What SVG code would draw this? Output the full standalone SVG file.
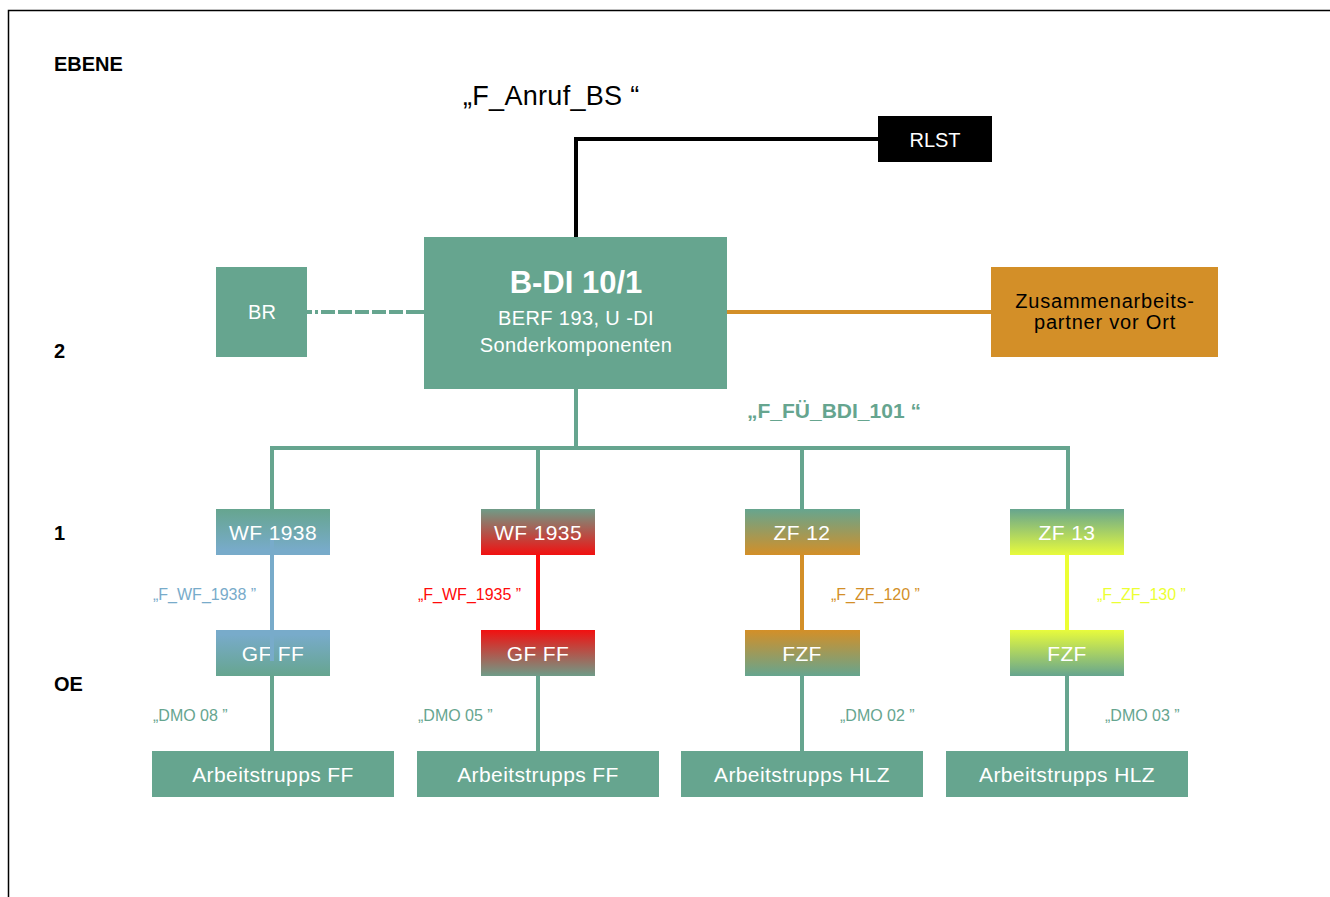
<svg xmlns="http://www.w3.org/2000/svg" width="1330" height="897" viewBox="0 0 1330 897">
<style>
text{font-family:"Liberation Sans",Arial,sans-serif}
.lvl{font-size:20px;font-weight:bold;fill:#000}
.bx{text-anchor:middle;fill:#fff}
.m{font-size:21px;letter-spacing:0.4px}
.lab{font-size:16px}
.teal{fill:#66a58f}
.ln{fill:none;stroke-width:4}
</style>
<defs>
<linearGradient id="gBlueD" x1="0" y1="0" x2="0" y2="1"><stop offset="0" stop-color="#66a58f"/><stop offset="0.9" stop-color="#78abca"/></linearGradient>
<linearGradient id="gBlueU" x1="0" y1="0" x2="0" y2="1"><stop offset="0.1" stop-color="#78abca"/><stop offset="1" stop-color="#66a58f"/></linearGradient>
<linearGradient id="gRedD" x1="0" y1="0" x2="0" y2="1"><stop offset="0" stop-color="#6f9c88"/><stop offset="1" stop-color="#f21010"/></linearGradient>
<linearGradient id="gRedU" x1="0" y1="0" x2="0" y2="1"><stop offset="0" stop-color="#f21010"/><stop offset="1" stop-color="#6f9c88"/></linearGradient>
<linearGradient id="gOrD" x1="0" y1="0" x2="0" y2="1"><stop offset="0" stop-color="#66a58f"/><stop offset="1" stop-color="#d38f28"/></linearGradient>
<linearGradient id="gOrU" x1="0" y1="0" x2="0" y2="1"><stop offset="0" stop-color="#d38f28"/><stop offset="1" stop-color="#66a58f"/></linearGradient>
<linearGradient id="gYeD" x1="0" y1="0" x2="0" y2="1"><stop offset="0" stop-color="#66a58f"/><stop offset="1" stop-color="#e8fb3c"/></linearGradient>
<linearGradient id="gYeU" x1="0" y1="0" x2="0" y2="1"><stop offset="0" stop-color="#e8fb3c"/><stop offset="1" stop-color="#66a58f"/></linearGradient>
</defs>
<rect width="1330" height="897" fill="#fff"/>
<path d="M8.5 897 V10.5 H1330" fill="none" stroke="#000" stroke-width="1.5"/>
<g id="levels">
<text class="lvl" x="54" y="71">EBENE</text>
<text class="lvl" x="54" y="358">2</text>
<text class="lvl" x="54" y="540">1</text>
<text class="lvl" x="54" y="691">OE</text>
</g>
<g id="connectors">
<path class="ln" d="M576 237 V139 H878" stroke="#000"/>
<path class="ln" d="M307 312 H424" stroke="#66a58f" stroke-dasharray="5 3 3 3 14 3 14 3 14 3 14 3 14 3 30"/>
<path class="ln" d="M727 312 H991" stroke="#d38f28"/>
<path class="ln" d="M576 389 V448 M272 509 V448 H1068 V509 M538 448 V509 M802 448 V509" stroke="#66a58f"/>
<path class="ln" d="M538 555 V630" stroke="#ff0a0a"/>
<path class="ln" d="M802 555 V630" stroke="#d38f28"/>
<path class="ln" d="M1067 555 V630" stroke="#ecff33"/>
<path class="ln" d="M272 676 V751 M538 676 V751 M802 676 V751 M1067 676 V751" stroke="#66a58f"/>
</g>
<text x="463" y="105" style="font-size:27px;letter-spacing:0.3px" fill="#000">„F_Anruf_BS “</text>
<text x="747" y="418" style="font-size:21px;font-weight:bold" class="teal">„F_FÜ_BDI_101 “</text>
<g id="RLST"><rect x="878" y="116" width="114" height="46" fill="#000"/><text class="bx" x="935" y="147" style="font-size:20px">RLST</text></g>
<g id="BDI"><rect x="424" y="237" width="303" height="152" fill="#66a58f"/>
<text class="bx" x="576" y="293" style="font-size:31px;font-weight:bold">B-DI 10/1</text>
<text class="bx" x="576" y="325" style="font-size:20px;letter-spacing:0.4px">BERF 193, U -DI</text>
<text class="bx" x="576" y="352" style="font-size:20px;letter-spacing:0.4px">Sonderkomponenten</text></g>
<g id="BR"><rect x="216" y="267" width="91" height="90" fill="#66a58f"/><text class="bx" x="262" y="319" style="font-size:20px">BR</text></g>
<g id="ZAP"><rect x="991" y="267" width="227" height="90" fill="#d38f28"/>
<text x="1105" y="308" style="font-size:20px;letter-spacing:0.8px" text-anchor="middle" fill="#000">Zusammenarbeits-</text>
<text x="1105" y="329" style="font-size:20px;letter-spacing:0.8px" text-anchor="middle" fill="#000">partner vor Ort</text></g>
<g id="WF1938"><rect x="216" y="509" width="114" height="46" fill="url(#gBlueD)"/><text class="bx m" x="273" y="540">WF 1938</text></g>
<g id="WF1935"><rect x="481" y="509" width="114" height="46" fill="url(#gRedD)"/><text class="bx m" x="538" y="540">WF 1935</text></g>
<g id="ZF12"><rect x="745" y="509" width="115" height="46" fill="url(#gOrD)"/><text class="bx m" x="802" y="540">ZF 12</text></g>
<g id="ZF13"><rect x="1010" y="509" width="114" height="46" fill="url(#gYeD)"/><text class="bx m" x="1067" y="540">ZF 13</text></g>
<g id="GF1"><rect x="216" y="630" width="114" height="46" fill="url(#gBlueU)"/><text class="bx m" x="273" y="661">GF FF</text></g>
<g id="GF2"><rect x="481" y="630" width="114" height="46" fill="url(#gRedU)"/><text class="bx m" x="538" y="661">GF FF</text></g>
<g id="FZF1"><rect x="745" y="630" width="115" height="46" fill="url(#gOrU)"/><text class="bx m" x="802" y="661">FZF</text></g>
<g id="FZF2"><rect x="1010" y="630" width="114" height="46" fill="url(#gYeU)"/><text class="bx m" x="1067" y="661">FZF</text></g>
<path d="M272 540 V661" stroke="#78abca" stroke-width="4"/>
<g id="AT1"><rect x="152" y="751" width="242" height="46" fill="#66a58f"/><text class="bx m" x="273" y="782">Arbeitstrupps FF</text></g>
<g id="AT2"><rect x="417" y="751" width="242" height="46" fill="#66a58f"/><text class="bx m" x="538" y="782">Arbeitstrupps FF</text></g>
<g id="AT3"><rect x="681" y="751" width="242" height="46" fill="#66a58f"/><text class="bx m" x="802" y="782">Arbeitstrupps HLZ</text></g>
<g id="AT4"><rect x="946" y="751" width="242" height="46" fill="#66a58f"/><text class="bx m" x="1067" y="782">Arbeitstrupps HLZ</text></g>
<g id="labels">
<text class="lab" x="153" y="600" fill="#78abca">„F_WF_1938 ”</text>
<text class="lab" x="418" y="600" fill="#ff0a0a">„F_WF_1935 ”</text>
<text class="lab" x="831" y="600" fill="#d38f28">„F_ZF_120 ”</text>
<text class="lab" x="1097" y="600" fill="#ecff33">„F_ZF_130 ”</text>
<text class="lab teal" x="153" y="721">„DMO 08 ”</text>
<text class="lab teal" x="418" y="721">„DMO 05 ”</text>
<text class="lab teal" x="840" y="721">„DMO 02 ”</text>
<text class="lab teal" x="1105" y="721">„DMO 03 ”</text>
</g>
</svg>
